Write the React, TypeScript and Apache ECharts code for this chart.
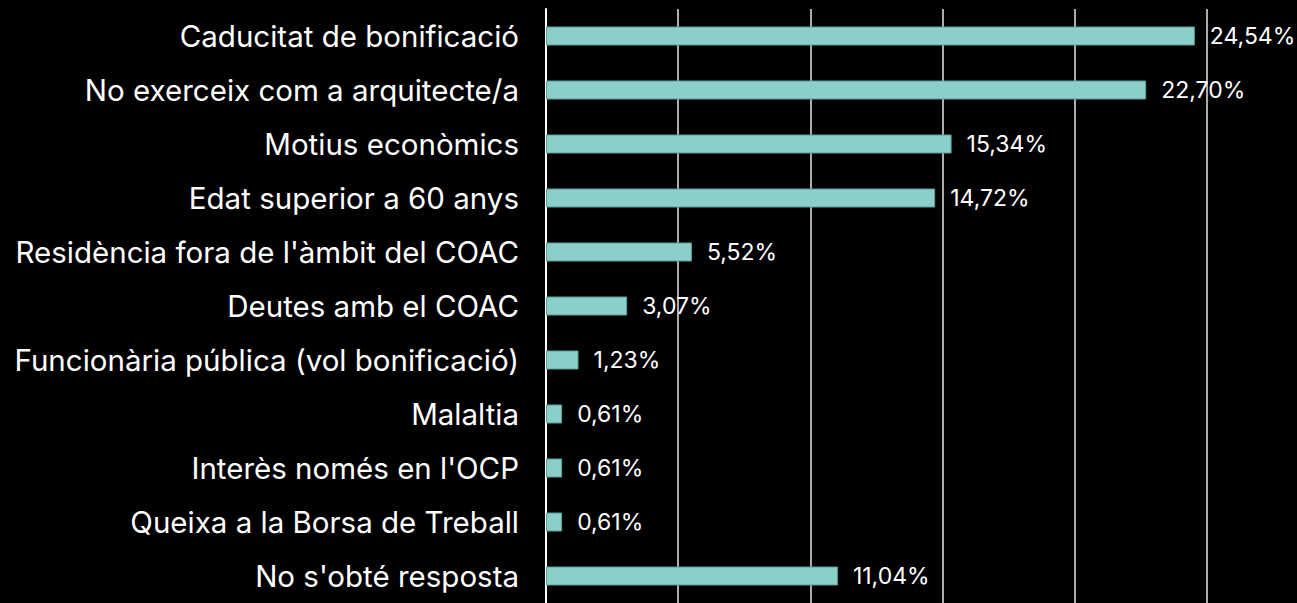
import React, { useEffect, useRef } from "react";
import * as echarts from "echarts";

const categories = [
  "Caducitat de bonificació",
  "No exerceix com a arquitecte/a",
  "Motius econòmics",
  "Edat superior a 60 anys",
  "Residència fora de l'àmbit del COAC",
  "Deutes amb el COAC",
  "Funcionària pública (vol bonificació)",
  "Malaltia",
  "Interès només en l'OCP",
  "Queixa a la Borsa de Treball",
  "No s'obté resposta",
];
const values = [24.54, 22.7, 15.34, 14.72, 5.52, 3.07, 1.23, 0.61, 0.61, 0.61, 11.04];

export default function App() {
  const ref = useRef<HTMLDivElement>(null);
  useEffect(() => {
    document.body.style.margin = "0";
    document.body.style.background = "#000";
    const chart = echarts.init(ref.current!, undefined, { renderer: "svg" });
    chart.setOption({
      animation: false,
      backgroundColor: "#000000",
      grid: { left: 546, right: 90, top: 9, height: 597, containLabel: false },
      xAxis: {
        type: "value",
        min: 0,
        max: 25,
        interval: 5,
        axisLabel: { show: false },
        axisLine: { show: false },
        axisTick: { show: false },
        splitLine: { show: true, lineStyle: { color: "#e6e6e6", width: 1.5 } },
      },
      yAxis: {
        type: "category",
        data: categories,
        inverse: true,
        axisLine: { show: true, lineStyle: { color: "#ffffff", width: 2 } },
        axisTick: { show: false },
        axisLabel: {
          color: "#ffffff",
          fontSize: 29.5,
          fontFamily: "Inter",
          margin: 27,
        },
      },
      series: [
        {
          type: "bar",
          data: values,
          barWidth: 19,
          itemStyle: { color: "#8ccfca", borderColor: "#5c9f9a", borderWidth: 1 },
          label: {
            show: true,
            position: "right",
            distance: 15,
            color: "#ffffff",
            fontSize: 23,
            fontFamily: "Inter",
            formatter: (p: any) => p.value.toFixed(2).replace(".", ",") + "%",
          },
        },
      ],
    });
    return () => chart.dispose();
  }, []);
  return (
    <div
      ref={ref}
      style={{ position: "absolute", left: 0, top: 0, width: 1297, height: 603, background: "#000" }}
    />
  );
}
